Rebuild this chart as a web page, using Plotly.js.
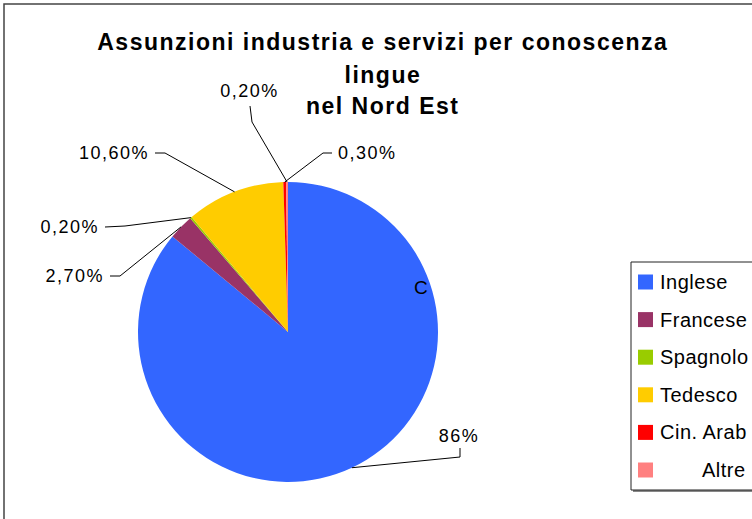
<!DOCTYPE html>
<html><head><meta charset="utf-8">
<script src="https://cdn.plot.ly/plotly-3.0.1.min.js"></script>
<style>html,body{margin:0;padding:0;background:#fff}#chart{width:752px;height:519px}</style>
</head><body><div id="chart"></div>
<script>
const labels = ["Inglese","Francese","Spagnolo","Tedesco","Cin. Arab","Altre"];
const values = [86, 2.7, 0.2, 10.6, 0.3, 0.2];
const colors = ["#3366FF","#993366","#99CC00","#FFCC00","#FF0000","#FF8080"];
const titleLines = ["Assunzioni industria e servizi per conoscenza","lingue","nel Nord Est"];

const W = 752, H = 519;
const cx = 288, cy = 332, R = 150;
const px = x => x / W, py = y => 1 - y / H;
const FONT = "Liberation Sans, Arial, sans-serif";

function fmt(v){ return Number.isInteger(v) ? v + "%" : v.toFixed(2).replace(".", ",") + "%"; }

// label layout: elbow points and text anchors (layout positions)
const labelLayout = [
  {pts:[[460,457],[460,448]], tx:459, ty:436, xa:"center"},
  {pts:[[120,276],[110,276]], tx:106, ty:276, xa:"right"},
  {pts:[[125,226],[105,227]], tx:101, ty:227, xa:"right"},
  {pts:[[165,153],[155,153]], tx:151, ty:153, xa:"right"},
  {pts:[[323,153],[332,153]], tx:336, ty:153, xa:"left"},
  {pts:[[252,122],[250,106]], tx:249, ty:91, xa:"center"}
];

const total = values.reduce((a,b)=>a+b,0);
const shapes = [];
const annotations = [];
const spacing = [];
let cum = 0;
values.forEach((v,i)=>{
  const mid = (cum + v/2) / total * 2 * Math.PI;
  cum += v;
  const ex = cx + R * Math.sin(mid), ey = cy - R * Math.cos(mid);
  const L = labelLayout[i];
  let path = `M ${px(ex)} ${py(ey)}`;
  L.pts.forEach(p => { path += ` L ${px(p[0])} ${py(p[1])}`; });
  shapes.push({type:"path", xref:"paper", yref:"paper", path, line:{color:"#000", width:1}});
  annotations.push({xref:"paper", yref:"paper", x:px(L.tx), y:py(L.ty), xanchor:L.xa, yanchor:"middle", align:L.xa,
    text:fmt(v), showarrow:false, font:{family:FONT, size:18, color:"#000"}});
  spacing.push(1.5);
});

// title lines
const titleY = [42, 75, 106];
titleLines.forEach((t,i)=>{
  annotations.push({xref:"paper", yref:"paper", x:px(383), y:py(titleY[i]), xanchor:"center", yanchor:"middle",
    text:"<b>"+t+"</b>", showarrow:false, font:{family:FONT, size:23, color:"#000"}});
  spacing.push(1.5);
});

// stray letter inside pie
annotations.push({xref:"paper", yref:"paper", x:px(421), y:py(287), xanchor:"center", yanchor:"middle",
  text:"C", showarrow:false, font:{family:FONT, size:19, color:"#000"}});
spacing.push(0);

// outer frame
shapes.push({type:"rect", xref:"paper", yref:"paper", x0:px(4), y0:py(600), x1:px(800), y1:py(4), line:{color:"#444", width:1.5}, layer:"below"});

// legend (drawn manually to match spacing)
shapes.push({type:"rect", xref:"paper", yref:"paper", x0:px(633), y0:py(492), x1:px(800), y1:py(265), line:{width:0}, fillcolor:"#888", layer:"below"});
shapes.push({type:"rect", xref:"paper", yref:"paper", x0:px(631), y0:py(490), x1:px(800), y1:py(262), line:{color:"#222", width:1}, fillcolor:"#fff", layer:"below"});
const legY0 = 282, legStep = 37.6;
labels.forEach((lab,i)=>{
  const y = legY0 + i*legStep;
  shapes.push({type:"rect", xref:"paper", yref:"paper", x0:px(638), x1:px(653), y0:py(y+7.5), y1:py(y-7.5), line:{width:0}, fillcolor:colors[i]});
  const isLast = i === labels.length-1;
  annotations.push({xref:"paper", yref:"paper", x:px(isLast?700:658), y:py(y), xanchor:"left", yanchor:"middle", align:"left",
    text:lab, showarrow:false, font:{family:FONT, size:20, color:"#000"}});
  spacing.push(0.5);
});

const data = [{
  type:"pie", labels, values, sort:false, direction:"clockwise", rotation:0,
  marker:{colors, line:{width:0}}, textinfo:"none", hoverinfo:"label+percent",
  domain:{x:[138/W, 438/W], y:[37/H, 337/H]}, showlegend:false
}];

const layout = {
  width:W, height:H, margin:{l:0,r:0,t:0,b:0}, paper_bgcolor:"#fff",
  showlegend:false, shapes, annotations
};
Plotly.newPlot("chart", data, layout, {staticPlot:true}).then(gd=>{
  gd.querySelectorAll("g.annotation").forEach(g=>{
    const idx = +g.getAttribute("data-index");
    const ls = spacing[idx];
    if (ls) g.querySelectorAll("text").forEach(t=>{ t.style.letterSpacing = ls + "px"; });
  });
});
</script></body></html>
